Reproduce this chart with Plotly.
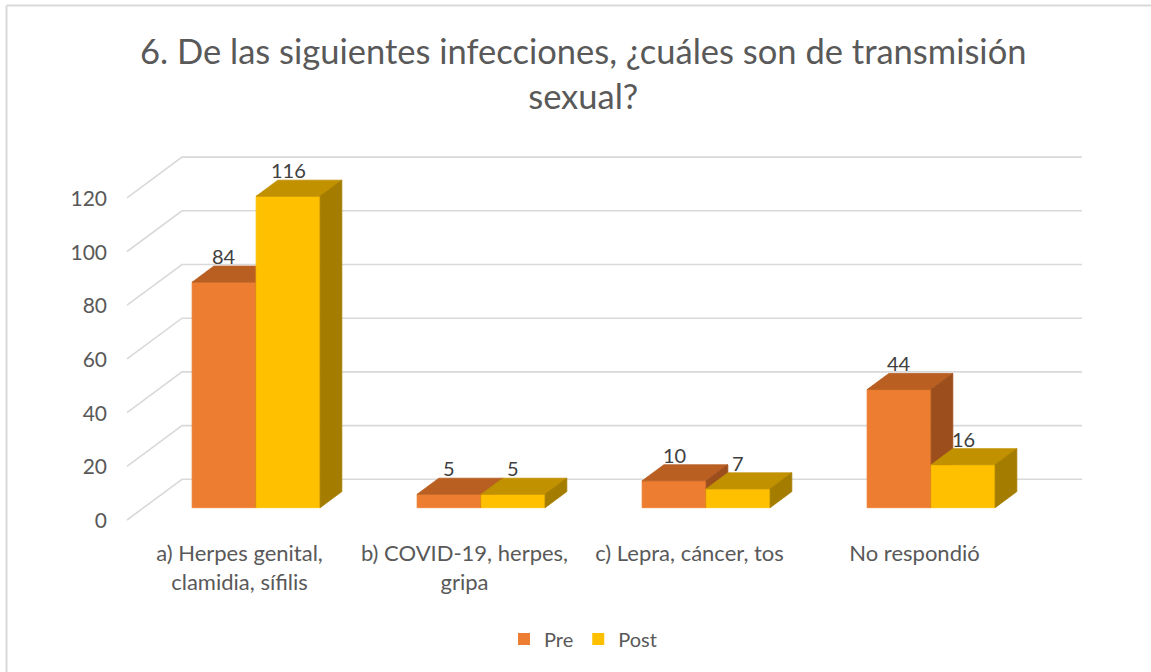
import plotly.graph_objects as go

# ---------------- data ----------------
categories = ["a) Herpes genital,<br>clamidia, sífilis",
              "b) COVID-19, herpes,<br>gripa",
              "c) Lepra, cáncer, tos",
              "No respondió"]
pre_values = [84, 5, 10, 44]
post_values = [116, 5, 7, 16]
series_names = ["Pre", "Post"]
y_ticks = [0, 20, 40, 60, 80, 100, 120]
title_text = "6. De las siguientes infecciones, ¿cuáles son de transmisión<br>sexual?"

# ---------------- style / geometry ----------------
W, H = 1151, 672
PX_PER_UNIT = 2.685          # vertical pixels per value unit
BASE_PX = 507.7              # pixel row of the bars' front baseline
X0 = 127.0                   # front-left floor corner (px)
CAT_W = 225.0
BAR_W = 64.0
GAP_SIDE = 48.5
DEPTH_DX = 55.0              # full floor depth, horizontal px
DEPTH_DY = 40.7 / PX_PER_UNIT  # full floor depth in value units
F0 = 0.302                   # depth fraction of bar front
FD = 0.395                   # bar depth fraction
F1 = F0 + FD

colors = {
    "Pre": {"front": "#ED7D31", "top": "#B95F22", "side": "#9C4E1D"},
    "Post": {"front": "#FFC000", "top": "#C29100", "side": "#A37C00"},
}
TEXT = "#595959"
LABEL = "#404040"
GRID = "#D9D9D9"
FONT = "Lato, Roboto, sans-serif"


def proj(x, v, d):
    """3D (x at front, value, depth fraction) -> 2D axis coordinates."""
    return x + d * DEPTH_DX, v + (d - F0) * DEPTH_DY


fig = go.Figure()

# gridlines (diagonal floor-to-wall + back wall)
gx, gy = [], []
x_end = X0 + CAT_W * len(categories)
for t in y_ticks:
    for (x, d) in [(X0, 0.0), (X0, 1.0), (x_end, 1.0)]:
        px_, py_ = proj(x, t, d)
        gx.append(px_)
        gy.append(py_)
    gx.append(None)
    gy.append(None)
fig.add_trace(go.Scatter(x=gx, y=gy, mode="lines",
                         line=dict(color=GRID, width=1.6),
                         hoverinfo="skip", showlegend=False))


def poly(points, color):
    xs = [p[0] for p in points] + [points[0][0]]
    ys = [p[1] for p in points] + [points[0][1]]
    fig.add_trace(go.Scatter(x=xs, y=ys, mode="lines", fill="toself",
                             fillcolor=color, line=dict(color=color, width=0.8),
                             hoverinfo="skip", showlegend=False))


annotations = []
for s_idx, (name, vals) in enumerate(zip(series_names, [pre_values, post_values])):
    c = colors[name]
    for i, v in enumerate(vals):
        xl = X0 + i * CAT_W + GAP_SIDE + s_idx * BAR_W
        xr = xl + BAR_W
        front = [proj(xl, 0, F0), proj(xr, 0, F0), proj(xr, v, F0), proj(xl, v, F0)]
        top = [proj(xl, v, F0), proj(xr, v, F0), proj(xr, v, F1), proj(xl, v, F1)]
        side = [proj(xr, 0, F0), proj(xr, 0, F1), proj(xr, v, F1), proj(xr, v, F0)]
        poly(front, c["front"])
        poly(top, c["top"])
        poly(side, c["side"])
        lx, _ = proj((xl + xr) / 2, v, F0)
        _, ly = proj(xl, v, F1)
        annotations.append(dict(x=lx, y=ly, text=str(v), showarrow=False,
                                xref="x", yref="y", yanchor="middle", yshift=10,
                                font=dict(family=FONT, size=20, color=LABEL)))

# chart title
annotations.append(dict(x=582.5 / W, y=1 - 72.5 / H, xref="paper", yref="paper",
                        xanchor="center", yanchor="middle", showarrow=False,
                        text=title_text, align="center",
                        font=dict(family=FONT, size=34.5, color=TEXT)))

# legend entries
for name in series_names:
    fig.add_trace(go.Bar(x=[None], y=[None], name=name,
                         marker=dict(color=colors[name]["front"])))

# category tick positions (front plane centres)
cat_pos = [X0 + (i + 0.5) * CAT_W for i in range(len(categories))]

y_top = BASE_PX / PX_PER_UNIT
y_bot = (BASE_PX - H) / PX_PER_UNIT

fig.update_layout(
    width=W, height=H,
    margin=dict(l=0, r=0, t=0, b=0),
    paper_bgcolor="white", plot_bgcolor="white",
    template="none",
    font=dict(family=FONT, color=TEXT),
    xaxis=dict(range=[0, W], domain=[0, 1], showgrid=False, zeroline=False,
               showline=False, ticks="", tickvals=cat_pos, ticktext=categories,
               tickfont=dict(family=FONT, size=22, color=TEXT),
               anchor="free", position=1 - 538 / H, automargin=False,
               fixedrange=True),
    yaxis=dict(range=[y_bot, y_top], domain=[0, 1], showgrid=False, zeroline=False,
               showline=False, ticks="", tickvals=y_ticks,
               ticktext=[str(t) for t in y_ticks],
               tickfont=dict(family=FONT, size=21, color=TEXT),
               ticklabelshift=13, anchor="free", position=107 / W,
               automargin=False, fixedrange=True),
    legend=dict(orientation="h", x=583 / W, xanchor="center",
                y=1 - 639 / H, yanchor="middle",
                font=dict(family=FONT, size=20, color=TEXT),
                bgcolor="rgba(0,0,0,0)", traceorder="normal"),
    annotations=annotations,
    shapes=[dict(type="line", xref="paper", yref="paper",
                 x0=6.5 / W, y0=-0.1, x1=6.5 / W, y1=1 - 5.5 / H,
                 line=dict(color=GRID, width=2), layer="below"),
            dict(type="line", xref="paper", yref="paper",
                 x0=6.5 / W, y0=1 - 5.5 / H, x1=1.1, y1=1 - 5.5 / H,
                 line=dict(color=GRID, width=2), layer="below")],
)

fig.write_html("out.html", config={"displayModeBar": False},
               post_script=("document.body.style.margin='0';"
                            "document.body.style.overflow='hidden';"
                            "document.documentElement.style.overflow='hidden';"))
